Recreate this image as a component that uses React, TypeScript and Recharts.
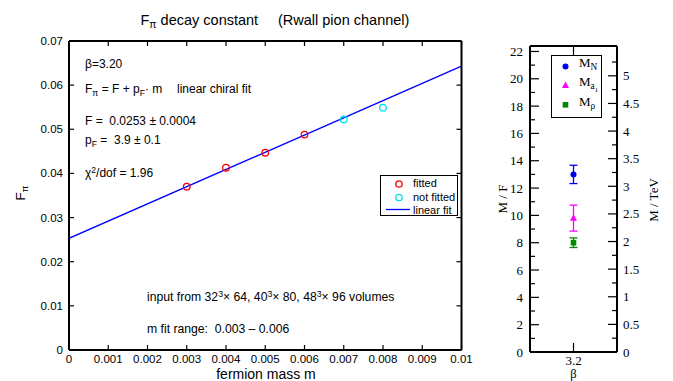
import React from 'react';
import { ComposedChart, Line, Scatter, XAxis, YAxis, ErrorBar } from 'recharts';

const SANS = '"Liberation Sans", Arial, Helvetica, sans-serif';
const SERIF = '"Liberation Serif", "Times New Roman", serif';

// ---- left panel: F_pi vs fermion mass ----
const fittedMass = [0.003, 0.004, 0.005, 0.006];
const fittedFpi = [0.037, 0.0413, 0.0447, 0.0488];
const notFittedMass = [0.007, 0.008];
const notFittedFpi = [0.0522, 0.0549];
const fitLineMass = [0, 0.01];
const fitLineFpi = [0.0253, 0.0643];
const massTicks = [0, 0.001, 0.002, 0.003, 0.004, 0.005, 0.006, 0.007, 0.008, 0.009, 0.01];
const fpiTicks = [0, 0.01, 0.02, 0.03, 0.04, 0.05, 0.06, 0.07];

// ---- right panel: M/F at beta = 3.2 ----
const betaValues = [3.2];
const nucleonMass = [13.0];
const nucleonErr = [0.67];
const a1Mass = [9.8];
const a1Err = [0.95];
const rhoMass = [8.0];
const rhoErr = [0.35];
const mfTicks = [0, 1, 2, 3, 4, 5, 6, 7, 8, 9, 10, 11, 12, 13, 14, 15, 16, 17, 18, 19, 20, 21, 22];
const tevTicks = [0, 0.25, 0.5, 0.75, 1, 1.25, 1.5, 1.75, 2, 2.25, 2.5, 2.75, 3, 3.25, 3.5, 3.75, 4, 4.25, 4.5, 4.75, 5, 5.25];
const betaTicks = [3.2];

const fittedData = fittedMass.map((m, i) => ({ m, f: fittedFpi[i] }));
const notFittedData = notFittedMass.map((m, i) => ({ m, f: notFittedFpi[i] }));
const fitData = fitLineMass.map((m, i) => ({ m, f: fitLineFpi[i] }));
const rightData = betaValues.map((beta, i) => ({
  beta,
  mN: nucleonMass[i],
  mNErr: nucleonErr[i],
  mA1: a1Mass[i],
  mA1Err: a1Err[i],
  mRho: rhoMass[i],
  mRhoErr: rhoErr[i],
}));

type Side = 'left' | 'right' | 'top' | 'bottom';
interface TickOpts {
  isMajor: (v: number) => boolean;
  majorLen: number;
  minorLen: number;
  fmt?: (v: number) => string;
  family: string;
  size: number;
  gap: number;
}

function makeTick(side: Side, o: TickOpts) {
  return (props: any) => {
    const { x, y, payload } = props;
    const v = payload.value as number;
    const major = o.isMajor(v);
    const len = major ? o.majorLen : o.minorLen;
    let l: number[];
    let label: React.ReactNode = null;
    const txt = o.fmt && major ? o.fmt(v) : null;
    switch (side) {
      case 'bottom':
        l = [x, y, x, y - len];
        if (txt !== null)
          label = (
            <text x={x} y={y + o.gap} textAnchor="middle" fontFamily={o.family} fontSize={o.size} fill="#000">
              {txt}
            </text>
          );
        break;
      case 'top':
        l = [x, y, x, y + len];
        break;
      case 'left':
        l = [x, y, x + len, y];
        if (txt !== null)
          label = (
            <text x={x - o.gap} y={y + o.size * 0.35} textAnchor="end" fontFamily={o.family} fontSize={o.size} fill="#000">
              {txt}
            </text>
          );
        break;
      default:
        l = [x, y, x - len, y];
        if (txt !== null)
          label = (
            <text x={x + o.gap} y={y + o.size * 0.35} textAnchor="start" fontFamily={o.family} fontSize={o.size} fill="#000">
              {txt}
            </text>
          );
    }
    return (
      <g>
        <line x1={l[0]} y1={l[1]} x2={l[2]} y2={l[3]} stroke="#000" strokeWidth={1.2} />
        {label}
      </g>
    );
  };
}

const fmtMass = (v: number) => String(Number(v.toFixed(3)));
const fmtFpi = (v: number) => String(Number(v.toFixed(2)));
const always = () => true;

const leftBottomTick = makeTick('bottom', { isMajor: always, majorLen: 5, minorLen: 5, fmt: fmtMass, family: SANS, size: 11.5, gap: 13 });
const leftTopTick = makeTick('top', { isMajor: always, majorLen: 5, minorLen: 5, family: SANS, size: 11.5, gap: 0 });
const leftLeftTick = makeTick('left', { isMajor: always, majorLen: 5, minorLen: 5, fmt: fmtFpi, family: SANS, size: 11.5, gap: 6 });
const leftRightTick = makeTick('right', { isMajor: always, majorLen: 5, minorLen: 5, family: SANS, size: 11.5, gap: 0 });

const rBottomTick = makeTick('bottom', { isMajor: always, majorLen: 9, minorLen: 9, fmt: (v) => String(v), family: SERIF, size: 13, gap: 13 });
const rTopTick = makeTick('top', { isMajor: always, majorLen: 9, minorLen: 9, family: SERIF, size: 13, gap: 0 });
const rLeftTick = makeTick('left', { isMajor: (v) => v % 2 === 0, majorLen: 9, minorLen: 5, fmt: (v) => String(v), family: SERIF, size: 13, gap: 7 });
const rRightTick = makeTick('right', { isMajor: (v) => Math.abs(v * 2 - Math.round(v * 2)) < 1e-6, majorLen: 9, minorLen: 5, fmt: (v) => String(v), family: SERIF, size: 13, gap: 6 });

const axisLine = { stroke: '#000', strokeWidth: 2 };

const Txt = ({ x, base, size, family = SANS, center = false, children }: any) => (
  <div
    style={{
      position: 'absolute',
      left: x,
      top: base - size * 0.85,
      fontSize: size,
      fontFamily: family,
      lineHeight: 1,
      whiteSpace: 'pre',
      color: '#000',
      transform: center ? 'translateX(-50%)' : undefined,
    }}
  >
    {children}
  </div>
);

const VTxt = ({ x, y, size, family = SANS, children }: any) => (
  <div
    style={{
      position: 'absolute',
      left: x,
      top: y,
      fontSize: size,
      fontFamily: family,
      lineHeight: 1,
      whiteSpace: 'pre',
      color: '#000',
      transform: 'translate(-50%, -50%) rotate(-90deg)',
    }}
  >
    {children}
  </div>
);

const Sub = ({ children }: any) => (
  <span style={{ fontSize: '0.72em', position: 'relative', top: '0.35em' }}>{children}</span>
);
const Sup = ({ children }: any) => (
  <span style={{ fontSize: '0.72em', position: 'relative', top: '-0.45em' }}>{children}</span>
);

const openCircle = (color: string) => (p: any) => (
  <circle cx={p.cx} cy={p.cy} r={3.3} fill="none" stroke={color} strokeWidth={1.3} />
);

const dotShape = (p: any) => <circle cx={p.cx} cy={p.cy} r={3} fill="#0000ee" />;
const triShape = (p: any) => (
  <polygon points={`${p.cx},${p.cy - 4} ${p.cx - 3.5},${p.cy + 2.5} ${p.cx + 3.5},${p.cy + 2.5}`} fill="#ff00ff" />
);
const sqShape = (p: any) => <rect x={p.cx - 2.8} y={p.cy - 2.8} width={5.6} height={5.6} fill="#008a00" />;

export default function App() {
  return (
    <div style={{ position: 'absolute', left: 0, top: 0, width: 673, height: 381, background: '#fff', overflow: 'hidden' }}>
      <div style={{ position: 'absolute', left: 0, top: 0 }}>
        <ComposedChart width={480} height={381} margin={{ top: 40, right: 17.5, bottom: 30, left: 68 }}>
          <XAxis xAxisId="b" dataKey="m" type="number" domain={[0, 0.01]} allowDataOverflow ticks={massTicks} interval={0} height={1} tickSize={0} tickMargin={0} axisLine={axisLine} tickLine={false} tick={leftBottomTick} />
          <XAxis xAxisId="t" orientation="top" dataKey="m" type="number" domain={[0, 0.01]} allowDataOverflow ticks={massTicks} interval={0} height={1} tickSize={0} tickMargin={0} axisLine={axisLine} tickLine={false} tick={leftTopTick} />
          <YAxis yAxisId="l" type="number" domain={[0, 0.07]} allowDataOverflow ticks={fpiTicks} interval={0} width={1} tickSize={0} tickMargin={0} axisLine={axisLine} tickLine={false} tick={leftLeftTick} />
          <YAxis yAxisId="r" orientation="right" type="number" domain={[0, 0.07]} allowDataOverflow ticks={fpiTicks} interval={0} width={1} tickSize={0} tickMargin={0} axisLine={axisLine} tickLine={false} tick={leftRightTick} />
          <Line xAxisId="b" yAxisId="l" data={fitData} dataKey="f" stroke="#0000ff" strokeWidth={1.3} dot={false} activeDot={false} isAnimationActive={false} />
          <Scatter xAxisId="b" yAxisId="l" data={fittedData} dataKey="f" shape={openCircle('#ff0000')} isAnimationActive={false} />
          <Scatter xAxisId="b" yAxisId="l" data={notFittedData} dataKey="f" shape={openCircle('#00e0f0')} isAnimationActive={false} />
        </ComposedChart>
      </div>

      <div style={{ position: 'absolute', left: 480, top: 0 }}>
        <ComposedChart width={193} height={381} data={rightData} margin={{ top: 45, right: 55, bottom: 28, left: 49 }}>
          <XAxis xAxisId="b" dataKey="beta" type="number" domain={[3.1, 3.3]} allowDataOverflow ticks={betaTicks} interval={0} height={1} tickSize={0} tickMargin={0} axisLine={axisLine} tickLine={false} tick={rBottomTick} />
          <XAxis xAxisId="t" orientation="top" dataKey="beta" type="number" domain={[3.1, 3.3]} allowDataOverflow ticks={betaTicks} interval={0} height={1} tickSize={0} tickMargin={0} axisLine={axisLine} tickLine={false} tick={rTopTick} />
          <YAxis yAxisId="l" type="number" domain={[0, 22.4]} allowDataOverflow ticks={mfTicks} interval={0} width={1} tickSize={0} tickMargin={0} axisLine={axisLine} tickLine={false} tick={rLeftTick} />
          <YAxis yAxisId="tev" orientation="right" type="number" domain={[0, 5.54]} allowDataOverflow ticks={tevTicks} interval={0} width={1} tickSize={0} tickMargin={0} axisLine={axisLine} tickLine={false} tick={rRightTick} />
          <Scatter xAxisId="b" yAxisId="l" dataKey="mN" fill="#0000ee" shape={dotShape} isAnimationActive={false}>
            <ErrorBar dataKey="mNErr" direction="y" width={4} stroke="#0000ee" strokeWidth={1.3} />
          </Scatter>
          <Scatter xAxisId="b" yAxisId="l" dataKey="mA1" fill="#ff00ff" shape={triShape} isAnimationActive={false}>
            <ErrorBar dataKey="mA1Err" direction="y" width={4} stroke="#ff00ff" strokeWidth={1.3} />
          </Scatter>
          <Scatter xAxisId="b" yAxisId="l" dataKey="mRho" fill="#008a00" shape={sqShape} isAnimationActive={false}>
            <ErrorBar dataKey="mRhoErr" direction="y" width={4} stroke="#008a00" strokeWidth={1.3} />
          </Scatter>
        </ComposedChart>
      </div>

      {/* left panel titles */}
      <Txt x={140.5} base={25} size={14.5}>
        F<Sub>π</Sub> decay constant
      </Txt>
      <Txt x={278} base={25} size={14.5}>(Rwall pion channel)</Txt>
      <VTxt x={21} y={193} size={13.5}>
        F<Sub>π</Sub>
      </VTxt>
      <Txt x={266} base={378.5} size={14} center>
        fermion mass m
      </Txt>

      {/* annotations */}
      <Txt x={85} base={68} size={12}>β=3.20</Txt>
      <Txt x={85} base={93} size={12}>
        F<Sub>π</Sub> = F + p<Sub>F</Sub>· m
      </Txt>
      <Txt x={177} base={93} size={12}>linear chiral fit</Txt>
      <Txt x={85} base={125} size={12}>F =  0.0253 ± 0.0004</Txt>
      <Txt x={85} base={144} size={12}>
        p<Sub>F</Sub> =  3.9 ± 0.1
      </Txt>
      <Txt x={85} base={177} size={12}>
        χ<Sup>2</Sup>/dof = 1.96
      </Txt>
      <Txt x={147} base={301} size={12.2}>
        input from 32<Sup>3</Sup>× 64, 40<Sup>3</Sup>× 80, 48<Sup>3</Sup>× 96 volumes
      </Txt>
      <Txt x={147} base={333} size={12.2}>m fit range:  0.003 – 0.006</Txt>

      {/* left legend */}
      <div style={{ position: 'absolute', left: 380, top: 175, width: 78, height: 41, border: '1.3px solid #000', background: '#fff', boxSizing: 'border-box' }}>
        <svg width={30} height={40} style={{ position: 'absolute', left: 0, top: 0 }}>
          <circle cx={18} cy={8} r={3.2} fill="none" stroke="#ff0000" strokeWidth={1.3} />
          <circle cx={18} cy={21.5} r={3.2} fill="none" stroke="#00e0f0" strokeWidth={1.3} />
          <line x1={5} y1={33.5} x2={29} y2={33.5} stroke="#0000ff" strokeWidth={1.3} />
        </svg>
      </div>
      <Txt x={413} base={187} size={11}>fitted</Txt>
      <Txt x={413} base={201} size={11}>not fitted</Txt>
      <Txt x={413} base={214} size={11}>linear fit</Txt>

      {/* right panel labels */}
      <VTxt x={502} y={199} size={13} family={SERIF}>M / F</VTxt>
      <VTxt x={653} y={200} size={13} family={SERIF}>M / TeV</VTxt>
      <Txt x={573.5} base={379} size={12.5} family={SERIF} center>β</Txt>

      {/* right legend */}
      <div style={{ position: 'absolute', left: 551, top: 55, width: 51, height: 63, border: '1.3px solid #000', background: '#fff', boxSizing: 'border-box' }}>
        <svg width={30} height={60} style={{ position: 'absolute', left: 0, top: 0 }}>
          <circle cx={13.5} cy={10.5} r={3} fill="#0000ee" />
          <polygon points="13.5,25.5 10,32 17,32" fill="#ff00ff" />
          <rect x={10.7} y={46} width={5.6} height={5.6} fill="#008a00" />
        </svg>
      </div>
      <Txt x={579} base={67} size={13} family={SERIF}>
        M<Sub>N</Sub>
      </Txt>
      <Txt x={579} base={86} size={13} family={SERIF}>
        M<Sub>a<Sub>1</Sub></Sub>
      </Txt>
      <Txt x={579} base={106} size={13} family={SERIF}>
        M<Sub>ρ</Sub>
      </Txt>
    </div>
  );
}
